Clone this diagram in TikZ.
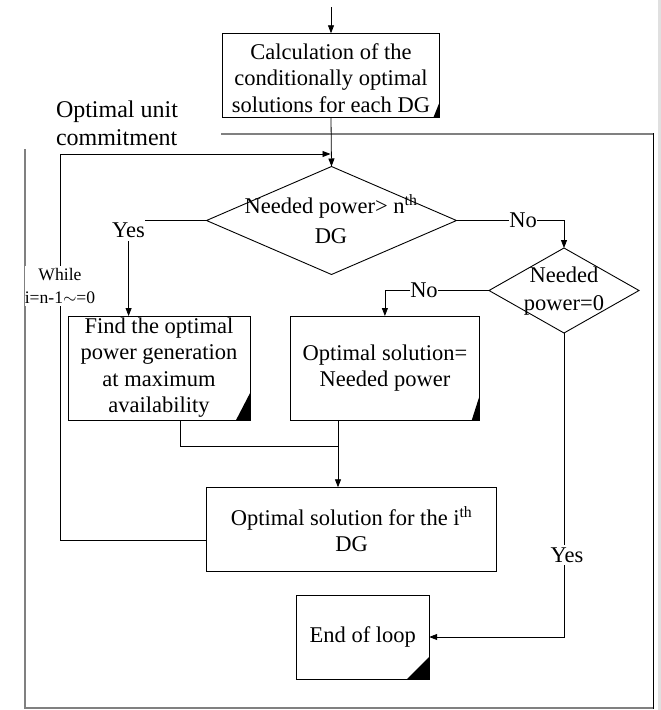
\documentclass[tikz,border=0pt]{standalone}
\usepackage{fontspec}
\setmainfont{Liberation Serif}
\usetikzlibrary{shapes.geometric,arrows.meta}
\begin{document}
\begin{tikzpicture}[x=1pt,y=-1pt,
  every node/.style={inner sep=0pt,outer sep=0pt},
  txt/.style={font=\fontsize{22.5}{26.5}\selectfont,align=center},
  small/.style={font=\fontsize{17.6}{23}\selectfont,align=center},
  boxnode/.style={draw,rectangle,line width=0.9pt},
  dia/.style={draw,diamond,line width=0.9pt},
  conn/.style={line width=0.8pt},
  arr/.style={conn,-{Triangle[length=8pt,width=6pt]}},
  framegray/.style={draw=black!50,line width=1.8pt},
  fold/.style={fill=black}]
\useasboundingbox (0,0) rectangle (661,710);
\fill[white] (0,0) rectangle (661,710);
\fill[black!12] (658,0) rectangle (661,710);

% frame
\draw[framegray] (221,134) -- (653,134);
\draw[framegray] (653,708) -- (25,708) -- (25,149);
\draw[line width=1pt] (653,133) -- (653,708.5);

% boxes
\node[boxnode,minimum width=216.7,minimum height=84.4] (b0) at (331,75.5) {};
\node[boxnode,minimum width=181.7,minimum height=104] (b1) at (159.2,368) {};
\node[boxnode,minimum width=189.8,minimum height=104] (b2) at (384.9,368) {};
\node[boxnode,minimum width=290,minimum height=84.4] (b3) at (351.6,529.5) {};
\node[boxnode,minimum width=132.8,minimum height=84] (b4) at (362.8,637) {};

% diamonds
\node[dia,minimum width=250,minimum height=108] (d1) at (331.5,220.5) {};
\node[dia,minimum width=150,minimum height=85] (d2) at (564,290.5) {};

% folded corners
\fill[fold] (b0.south east) -- ++(-6,0) -- ++(6,-15) -- cycle;
\fill[fold] (b1.south east) -- ++(-14,0) -- ++(14,-27) -- cycle;
\fill[fold] (b2.south east) -- ++(-8,0) -- ++(8,-25) -- cycle;
\fill[fold] (b4.south east) -- ++(-22,0) -- ++(22,-22) -- cycle;

% texts
\node[txt] (t0) at (331,78) {Calculation of the\\conditionally optimal\\solutions for each DG};
\node[font=\fontsize{24}{28}\selectfont,align=left,anchor=west] (tuc) at (56,123) {Optimal unit\\commitment};
\node[txt,font=\fontsize{22.5}{30}\selectfont] (td1) at (331,219) {Needed power> n\textsuperscript{th}\\DG};
\node[txt,font=\fontsize{22.5}{28.5}\selectfont] (td2) at (564,291) {Needed\\power=0};
\node[txt] (t1) at (159,367.5) {Find the optimal\\power generation\\at maximum\\availability};
\node[txt] (t2) at (385,368) {Optimal solution=\\Needed power};
\node[txt] (t3) at (351.6,529.5) {Optimal solution for the i\textsuperscript{th}\\DG};
\node[txt] (t4) at (362.8,637) {End of loop};

% labels
\node[txt] (yes1) at (128.6,230.7) {Yes};
\node[txt] (no1) at (523,220.5) {No};
\node[txt] (no2) at (424,290.5) {No};
\node[txt] (yes2) at (567,555) {Yes};

% connectors
\coordinate (top) at (331,7);
\draw[arr] (top) -- (b0.north);
\draw[arr] (b0.south) -- (d1.north);

\coordinate (lp1) at (60,540);
\coordinate (lp2) at (60,154);
\draw[arr,shorten >=1pt] (b3.west |- lp1) -- (lp1) -- (lp2) -- (d1.north |- lp2);
\node[small,fill=white,inner ysep=2pt] (wh) at (60,286) {While\\i=n-1$\sim$=0};

\draw[conn] (d1.west) -- (d1.west -| yes1.east);
\draw[arr] (yes1.south) ++(0,3) -- (yes1.south |- b1.north);

\draw[conn] (d1.east) -- (no1.west);
\draw[arr] (no1.east) -| (d2.north);

\draw[conn] (d2.west) -- (no2.east);
\draw[arr] (no2.west) -| (b2.north);

\draw[conn,shorten >=3pt] (d2.south) -- (d2.south |- yes2.north);
\draw[arr,shorten <=3pt] (d2.south |- yes2.south) |- (b4.east);

\coordinate (m) at (338,446.7);
\draw[conn] ([xshift=21]b1.south) |- (m);
\draw[arr] (b2.south -| m) -- (b3.north -| m);
\end{tikzpicture}
\end{document}
